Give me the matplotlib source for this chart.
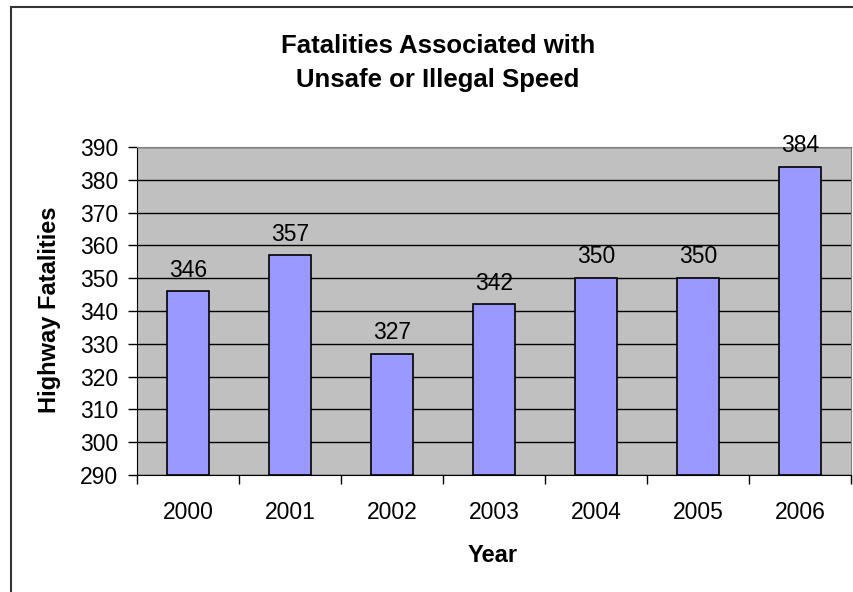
import matplotlib.pyplot as plt
from matplotlib.patches import Rectangle

years = ['2000', '2001', '2002', '2003', '2004', '2005', '2006']
fatalities = [346, 357, 327, 342, 350, 350, 384]

plt.rcParams['font.family'] = ['Liberation Sans', 'DejaVu Sans']

fig = plt.figure(figsize=(8.54, 5.92), dpi=100)
ax = fig.add_axes([137 / 854, 117 / 592, 714 / 854, 328 / 592])

# outer chart border (only left/top visible in the reference)
fig.patches.append(Rectangle((11 / 854, -0.1), 1.2, 0.1 + 585 / 592, transform=fig.transFigure,
                             fill=False, edgecolor='#333333', linewidth=1.5))

ax.set_facecolor('#c0c0c0')
x = list(range(len(years)))
ax.bar(x, [v - 290 for v in fatalities], bottom=290, width=0.42,
       color='#9999ff', edgecolor='black', linewidth=1.2, zorder=3)

for xi, v in zip(x, fatalities):
    ax.annotate(str(v), (xi, v), xytext=(0, 7), textcoords='offset points',
                ha='center', va='bottom', fontsize=16.5, zorder=4)

ax.set_xlim(-0.5, len(years) - 0.5)
ax.set_ylim(290, 390)
ax.set_yticks(range(290, 391, 10))
ax.yaxis.grid(True, color='black', linewidth=1)
ax.set_axisbelow(True)

ax.set_xticks([i - 0.5 for i in range(len(years) + 1)])
ax.set_xticklabels([])
ax.set_xticks(x, minor=True)
ax.set_xticklabels(years, minor=True)
ax.tick_params(axis='x', which='minor', length=0, pad=19, labelsize=16.5)
ax.tick_params(axis='x', which='major', length=6.5, width=1, direction='out')
ax.tick_params(axis='y', length=6.5, width=1, direction='out', pad=7, labelsize=16.5)

for side in ['top', 'right']:
    ax.spines[side].set_color('#808080')
ax.spines['left'].set_color('black')
ax.spines['bottom'].set_color('black')

fig.text(493 / 854, 1 - 555 / 592, 'Year', ha='center', va='center',
         fontsize=17, fontweight='bold')
fig.text(50 / 854, 1 - 310 / 592, 'Highway Fatalities', ha='center', va='center',
         rotation=90, fontsize=17, fontweight='bold')

fig.text(438 / 854, 1 - 63 / 592, 'Fatalities Associated with\nUnsafe or Illegal Speed',
         ha='center', va='center', fontsize=18.5, fontweight='bold', linespacing=1.55)

fig.savefig('out.png', dpi=100)
